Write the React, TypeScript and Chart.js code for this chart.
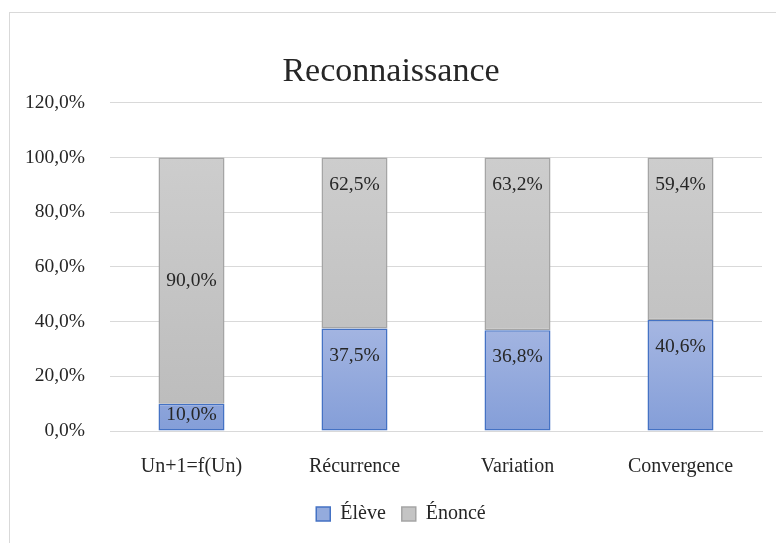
import React, { useEffect, useRef } from "react";
import { Chart, registerables } from "chart.js";

Chart.register(...registerables);

const title = "Reconnaissance";
const categories = ["Un+1=f(Un)", "Récurrence", "Variation", "Convergence"];
const seriesNames = ["Élève", "Énoncé"];
const eleveValues = [10.0, 37.5, 36.8, 40.6];
const enonceValues = [90.0, 62.5, 63.2, 59.4];
const enonceLabelAnchor = ["center", "end", "end", "end"];
const eleveLabelAnchor = ["end", "end", "end", "end"];
const yTicks = [0, 20, 40, 60, 80, 100, 120];

const FONT = "'Liberation Serif', 'Times New Roman', serif";
const TEXT = "#262626";

const fmt = (v: number) => v.toFixed(1).replace(".", ",") + "%";

const dataLabelPlugin = {
  id: "dataLabels",
  afterLayout(chart: any) {
    if (chart.legend) {
      chart.legend.left += 10;
      chart.legend.right += 10;
    }
  },
  afterDatasetsDraw(chart: any) {
    const ctx = chart.ctx;
    ctx.save();
    ctx.font = `19.5px ${FONT}`;
    ctx.fillStyle = TEXT;
    ctx.textAlign = "center";
    ctx.textBaseline = "middle";
    chart.data.datasets.forEach((ds: any, di: number) => {
      const meta = chart.getDatasetMeta(di);
      const anchors = di === 0 ? eleveLabelAnchor : enonceLabelAnchor;
      meta.data.forEach((el: any, i: number) => {
        const { x, y, base } = el.getProps(["x", "y", "base"], true);
        const top = Math.min(y, base);
        const bottom = Math.max(y, base);
        const mid = (top + bottom) / 2;
        const ty = anchors[i] === "center" ? mid : Math.min(top + 27, mid - 2);
        ctx.fillText(fmt(ds.data[i]), x, ty);
      });
    });
    ctx.restore();
  },
};

function blueFill(context: any) {
  const chart = context.chart;
  const area = chart.chartArea;
  if (!area) return "#94ABDD";
  const ys = chart.scales.y;
  const g = chart.ctx.createLinearGradient(0, ys.getPixelForValue(45), 0, ys.getPixelForValue(0));
  g.addColorStop(0, "#A9B9E3");
  g.addColorStop(1, "#849ED8");
  return g;
}

function grayFill(context: any) {
  const chart = context.chart;
  const area = chart.chartArea;
  if (!area) return "#C6C6C6";
  const ys = chart.scales.y;
  const g = chart.ctx.createLinearGradient(0, ys.getPixelForValue(100), 0, ys.getPixelForValue(0));
  g.addColorStop(0, "#CDCDCD");
  g.addColorStop(1, "#BBBBBB");
  return g;
}

export default function App() {
  const ref = useRef<HTMLCanvasElement | null>(null);
  useEffect(() => {
    if (!ref.current) return;
    const chart = new Chart(ref.current, {
      type: "bar",
      data: {
        labels: categories,
        datasets: [
          {
            label: seriesNames[0],
            data: eleveValues,
            backgroundColor: blueFill,
            borderColor: "#4472C4",
            borderWidth: 1.5,
            borderSkipped: false,
            barPercentage: 0.405,
            categoryPercentage: 1,
          },
          {
            label: seriesNames[1],
            data: enonceValues,
            backgroundColor: grayFill,
            borderColor: "#A5A5A5",
            borderWidth: 1.5,
            borderSkipped: false,
            barPercentage: 0.405,
            categoryPercentage: 1,
          },
        ],
      },
      options: {
        responsive: false,
        animation: false,
        layout: { padding: { left: 20, right: 14, top: 0, bottom: 9 } },
        plugins: {
          title: {
            display: true,
            text: title,
            color: TEXT,
            font: { family: FONT, size: 34, weight: "normal" },
            padding: { top: 52, bottom: 10 },
          },
          legend: {
            position: "bottom",
            labels: {
              color: TEXT,
              font: { family: FONT, size: 20 },
              boxWidth: 14,
              boxHeight: 14,
              padding: 16,
              generateLabels: () => [
                { text: seriesNames[0], fillStyle: "#94ABDD", strokeStyle: "#4472C4", lineWidth: 1.5, datasetIndex: 0, fontColor: TEXT },
                { text: seriesNames[1], fillStyle: "#C4C4C4", strokeStyle: "#A5A5A5", lineWidth: 1.5, datasetIndex: 1, fontColor: TEXT },
              ],
            },
          },
          tooltip: { enabled: false },
        },
        scales: {
          x: {
            stacked: true,
            grid: { display: false, drawTicks: false },
            border: { display: true, color: "#D9D9D9", width: 1 },
            ticks: { color: TEXT, font: { family: FONT, size: 20 }, padding: 24 },
            afterFit: (s: any) => { s.height = 57; },
          },
          y: {
            stacked: true,
            min: 0,
            max: 120,
            afterBuildTicks: (s: any) => { s.ticks = yTicks.map((v) => ({ value: v })); },
            grid: { color: "#D9D9D9", lineWidth: 1, drawTicks: false },
            border: { display: false },
            ticks: {
              color: TEXT,
              font: { family: FONT, size: 19.5 },
              padding: 25,
              callback: (v: any) => fmt(Number(v)),
            },
            afterFit: (s: any) => { s.width = 90; },
          },
        },
      },
      plugins: [dataLabelPlugin],
    });
    return () => chart.destroy();
  }, []);
  return (
    <div style={{ position: "fixed", left: 0, top: 0, width: 776, height: 543, background: "#fff" }}>
      <div style={{ position: "absolute", left: 9, top: 12, width: 800, height: 600, border: "1px solid #D9D9D9", boxSizing: "border-box" }} />
      <canvas ref={ref} width={776} height={543} style={{ position: "absolute", left: 0, top: 0 }} />
    </div>
  );
}
